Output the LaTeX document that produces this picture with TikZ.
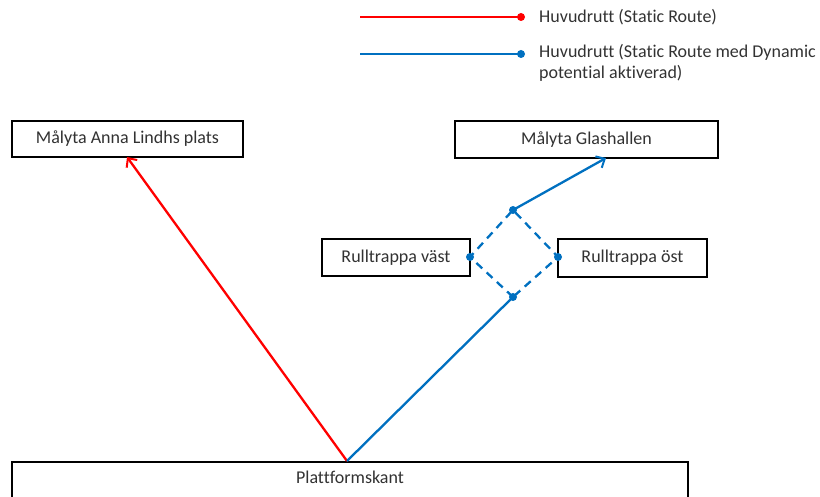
\documentclass[tikz,border=0pt]{standalone}
\usepackage{fontspec}
\setmainfont[Ligatures=NoCommon]{Carlito}
\usetikzlibrary{arrows.meta}
\definecolor{routered}{RGB}{255,0,0}
\definecolor{routeblue}{RGB}{0,112,192}
\definecolor{txt}{RGB}{50,50,50}
\tikzset{
  box/.style={draw=black,line width=2.2pt,fill=white,inner sep=0pt,font=\fontsize{18}{21}\selectfont,text=txt},
  redline/.style={draw=routered,line width=2.3pt},
  blueline/.style={draw=routeblue,line width=2.3pt},
  arrowtip/.style={-{Straight Barb[length=7pt,width=13pt,line width=2pt]}},
  legtext/.style={anchor=west,inner sep=0pt,font=\fontsize{18}{21.5}\selectfont,text=txt,align=left},
  dot/.style={circle,inner sep=0pt,minimum size=8pt}
}
\begin{document}
\begin{tikzpicture}[x=1pt,y=-1pt]
\useasboundingbox (0,0) rectangle (820,497);
\clip (0,0) rectangle (820,497);
% boxes
\node[box,minimum width=231pt,minimum height=36pt] (anna) at (127.5,139) {Målyta Anna Lindhs plats};
\node[box,minimum width=263pt,minimum height=37pt] (glas) at (586.5,139.5) {Målyta Glashallen};
\node[box,minimum width=148pt,minimum height=37pt] (vast) at (396,257.5) {Rulltrappa väst};
\node[box,minimum width=149pt,minimum height=38pt] (ost) at (632.5,258) {Rulltrappa öst};
\node[box,minimum width=676pt,minimum height=40pt,anchor=north] (platt) at (350,461) {};
\node[font=\fontsize{18}{21}\selectfont,text=txt,inner sep=0pt] (plattlbl) at (350,477) {Plattformskant};
% junction points
\coordinate (j) at (347,461);
\coordinate (dT) at (513,210);
\coordinate (dB) at (513,297);
\coordinate (dL) at (470,257);
\coordinate (dR) at (558,257);
\coordinate (gt) at (606,158);
\coordinate (at) at (127,157);
% red route
\draw[redline,arrowtip] (j) -- (at);
% blue route
\draw[blueline] (j) -- (dB);
\draw[blueline,dash pattern=on 8pt off 6pt] (dB) -- (dL) -- (dT) -- (dR) -- (dB);
\draw[blueline,arrowtip] (dT) -- (gt);
\foreach \p in {dT,dB,dL,dR} \node[dot,fill=routeblue] at (\p) {};
% legend
\coordinate (l1a) at (360,17);
\coordinate (l1b) at (521,17);
\coordinate (l2a) at (360,54);
\coordinate (l2b) at (521,54);
\draw[redline] (l1a) -- (l1b);
\node[dot,fill=routered] (d1) at (l1b) {};
\draw[blueline] (l2a) -- (l2b);
\node[dot,fill=routeblue] (d2) at (l2b) {};
\node[legtext] (t1) at (539,17) {Huvudrutt (Static Route)};
\node[legtext,anchor=north west] (t2) at (539,44) {Huvudrutt (Static Route med Dynamic\\potential aktiverad)};
\end{tikzpicture}
\end{document}
